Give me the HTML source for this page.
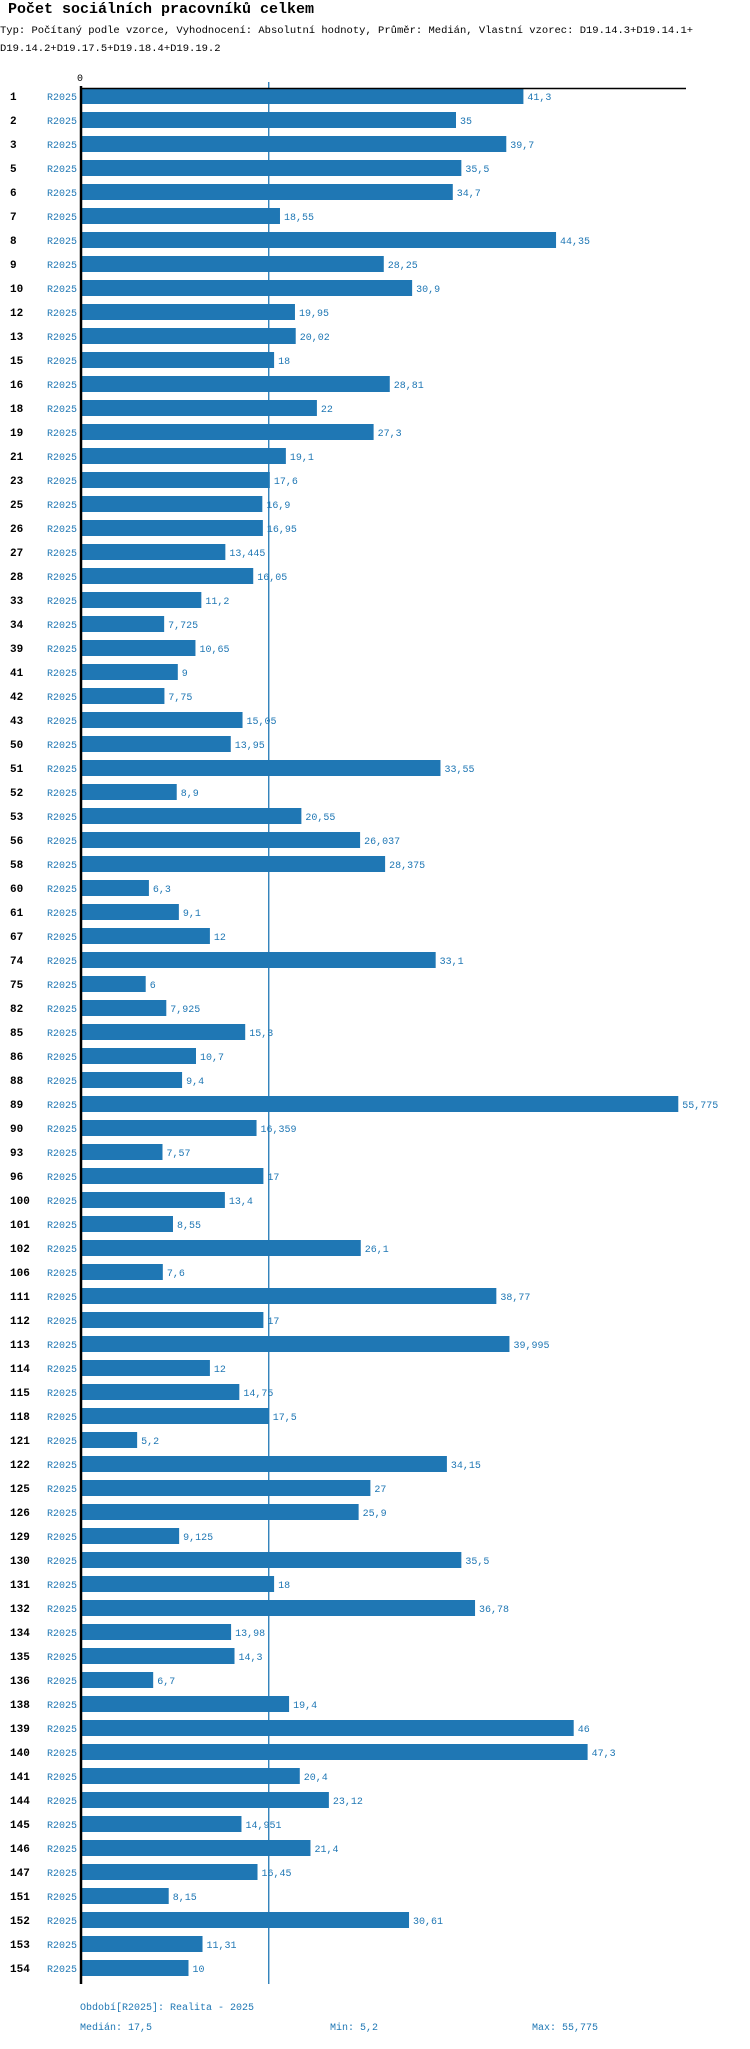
<!DOCTYPE html>
<html><head><meta charset="utf-8">
<style>
body{margin:0;background:#fff;width:750px;height:2044px;overflow:hidden;font-family:"Liberation Mono","DejaVu Sans Mono",monospace;}
svg text{font-family:"Liberation Mono","DejaVu Sans Mono",monospace;}
</style></head>
<body>
<svg id="chart" width="750" height="2044" xmlns="http://www.w3.org/2000/svg">
<text x="8" y="13" font-size="15" font-weight="bold" fill="#000">Počet sociálních pracovníků celkem</text>
<text x="0" y="33" font-size="10.5" fill="#000">Typ: Počítaný podle vzorce, Vyhodnocení: Absolutní hodnoty, Průměr: Medián, Vlastní vzorec: D19.14.3+D19.14.1+</text>
<text x="0" y="51" font-size="10.5" fill="#000">D19.14.2+D19.17.5+D19.18.4+D19.19.2</text>
<g id="bars"></g>
<text x="80" y="2010" font-size="10" fill="#1f77b4">Období[R2025]: Realita - 2025</text>
<text x="80" y="2030" font-size="10" fill="#1f77b4">Medián: 17,5</text>
<text x="330" y="2030" font-size="10" fill="#1f77b4">Min: 5,2</text>
<text x="532" y="2030" font-size="10" fill="#1f77b4">Max: 55,775</text>
</svg>
<script>
const categories=["1","2","3","5","6","7","8","9","10","12","13","15","16","18","19","21","23","25","26","27","28","33","34","39","41","42","43","50","51","52","53","56","58","60","61","67","74","75","82","85","86","88","89","90","93","96","100","101","102","106","111","112","113","114","115","118","121","122","125","126","129","130","131","132","134","135","136","138","139","140","141","144","145","146","147","151","152","153","154"];
const values=[41.3,35,39.7,35.5,34.7,18.55,44.35,28.25,30.9,19.95,20.02,18,28.81,22,27.3,19.1,17.6,16.9,16.95,13.445,16.05,11.2,7.725,10.65,9,7.75,15.05,13.95,33.55,8.9,20.55,26.037,28.375,6.3,9.1,12,33.1,6,7.925,15.3,10.7,9.4,55.775,16.359,7.57,17,13.4,8.55,26.1,7.6,38.77,17,39.995,12,14.75,17.5,5.2,34.15,27,25.9,9.125,35.5,18,36.78,13.98,14.3,6.7,19.4,46,47.3,20.4,23.12,14.951,21.4,16.45,8.15,30.61,11.31,10];
const seriesLabel="R2025";
const medianValue=17.5;
const NS="http://www.w3.org/2000/svg";
const x0=81.5, scale=10.7, yTop=88, step=24, barH=16;
const xPos=v=>x0+v*scale;
const yPos=i=>yTop+i*step;
const g=document.getElementById('bars');
function mk(tag,attrs){const e=document.createElementNS(NS,tag);for(const k in attrs)e.setAttribute(k,attrs[k]);return e;}
const yEnd=yPos(categories.length-1)+barH+8;
const med=mk('line',{x1:xPos(medianValue),x2:xPos(medianValue),y1:82,y2:yEnd,stroke:'#1f77b4','stroke-width':1.3});


g.appendChild(med);
categories.forEach((c,i)=>{
  const y=yPos(i);
  const lab=mk('text',{x:10,y:y+12,'font-size':11,'font-weight':'bold',fill:'#000'});
  lab.textContent=c;
  
  
  g.appendChild(lab);
  const s=mk('text',{x:77,y:y+12,'font-size':10,fill:'#1f77b4','text-anchor':'end'});
  s.textContent=seriesLabel;
  
  
  g.appendChild(s);
  const r=mk('rect',{x:x0,y:y,width:xPos(values[i])-x0,height:barH,fill:'#1f77b4'});
  
  
  g.appendChild(r);
  const t=mk('text',{x:xPos(values[i])+4,y:y+12,'font-size':10,fill:'#1f77b4'});
  t.textContent=String(values[i]).replace('.',',');
  
  
  g.appendChild(t);
});
const yAxisLine=mk('line',{x1:81,x2:81,y1:86,y2:yEnd,stroke:'#000','stroke-width':2.5});


g.appendChild(yAxisLine);
const xAxisLine=mk('line',{x1:80,x2:686,y1:88.5,y2:88.5,stroke:'#000','stroke-width':1.5});


g.appendChild(xAxisLine);
const zeroTick=mk('text',{x:80,y:81,'font-size':10,fill:'#000','text-anchor':'middle'});
zeroTick.textContent='0';


g.appendChild(zeroTick);
</script>
</body></html>
